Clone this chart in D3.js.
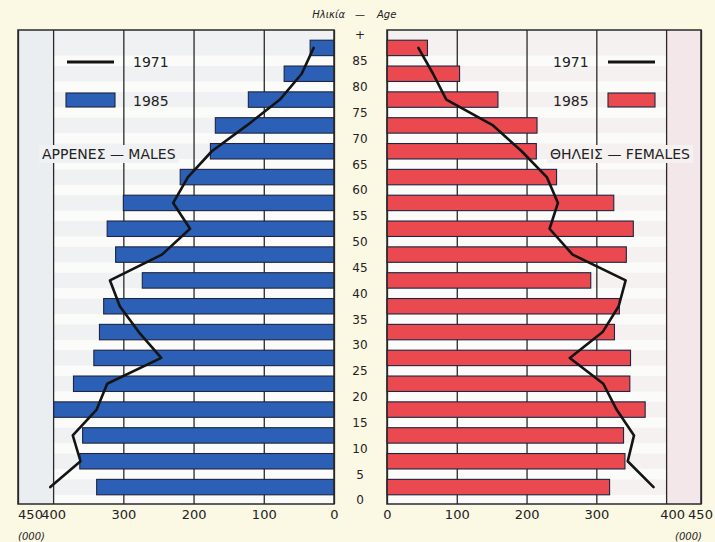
<!DOCTYPE html>
<html><head><meta charset="utf-8">
<script src="https://cdn.jsdelivr.net/npm/d3@7"></script>
<style>
html,body{margin:0;padding:0;background:#fbf8e4;}
svg{display:block;}
text{font-family:"DejaVu Sans",sans-serif;fill:#222;}
</style></head>
<body>
<svg id="c" width="715" height="542"></svg>
<script>
// ---- data ----
const ageGroups = [0,5,10,15,20,25,30,35,40,45,50,55,60,65,70,75,80,85];
const ageTickValues = [0,5,10,15,20,25,30,35,40,45,50,55,60,65,70,75,80,85,90];
const ageTickLabels = ["0","5","10","15","20","25","30","35","40","45","50","55","60","65","70","75","80","85","+"];
const male1985   = [338,362,358,399,371,342,334,328,273,311,323,300,219,176,169,122,71,34];
const male1971   = [404,361,372,338,323,246,278,305,319,245,205,229,208,174,124,77,46,29];
const female1985 = [319,341,339,370,348,349,326,333,292,343,353,325,243,214,215,159,104,58];
const female1971 = [382,345,354,329,310,262,309,332,342,266,233,245,229,193,152,85,66,45];
const xTicks = [0,100,200,300,400,450];
const xTickLabels = ["0","100","200","300","400","450"];
const legendYears = ["1971","1985"];
const maleTitle = "ΑΡΡΕΝΕΣ — MALES";
const femaleTitle = "ΘΗΛΕΙΣ — FEMALES";
const ageTitle = ["Ηλικία","—","Age"];
const unitLabel = "(000)";

// ---- layout ----
const svg = d3.select("#c");
const plotTop = 30, plotBottom = 504;
const L = {x0:18, x1:334}, R = {x0:387, x1:701};
const xL = d3.scaleLinear().domain([0,450]).range([L.x1, L.x0]);
const xR = d3.scaleLinear().domain([0,450]).range([R.x0, R.x1]);
const yAge = d3.scaleLinear().domain([0,90]).range([500,35]);
const pad = 5.2;
const blue = "#2c60b6", red = "#e9494f", edge = "#1d2540";

function panel(xs, fill, outer){
  const g = svg.append("g");
  g.append("rect").attr("x",Math.min(xs(0),xs(450))).attr("y",plotTop)
    .attr("width",Math.abs(xs(450)-xs(0))).attr("height",plotBottom-plotTop).attr("fill",fill);
  g.append("rect").attr("x",Math.min(xs(400),xs(450))).attr("y",plotTop)
    .attr("width",Math.abs(xs(450)-xs(400))).attr("height",plotBottom-plotTop).attr("fill",outer);
  g.selectAll("rect.gap").data(ageTickValues.slice(0,-1)).join("rect")
    .attr("class","gap")
    .attr("x",Math.min(xs(0),xs(400))).attr("width",Math.abs(xs(400)-xs(0)))
    .attr("y",d=>yAge(d)-pad).attr("height",pad*2).attr("fill","#fbfbfa");
  const ax = d3.axisBottom(xs).tickValues(xTicks).tickFormat((d,i)=>xTickLabels[i])
    .tickSizeInner(-(plotBottom-plotTop)).tickSizeOuter(0).tickPadding(6);
  const ag = svg.append("g").attr("transform",`translate(0,${plotBottom})`).call(ax);
  ag.select(".domain").remove();
  ag.selectAll(".tick line").attr("stroke","#2a2a2a").attr("stroke-width",1.3);
  ag.selectAll(".tick text").attr("font-size",13).attr("fill","#222")
    .attr("font-family","DejaVu Sans, sans-serif");
  return ag;
}

const agL = panel(xL, "#f0f1f2", "#eaeef1");
agL.selectAll(".tick text").attr("dx",d=>d===450?12:0);
const agR = panel(xR, "#f6f1f1", "#f4e7e9");
agR.selectAll(".tick text").attr("dx",d=>d===400?6:(d===450?-1:0));

function knockText(x, y, txt, fill){
  const t = svg.append("text").attr("x",x).attr("y",y).attr("font-size",14).text(txt);
  const b = t.node().getBBox();
  svg.insert("rect", function(){return t.node();})
    .attr("x",b.x-3).attr("y",b.y-1).attr("width",b.width+6).attr("height",b.height+2).attr("fill",fill);
  return t;
}

function bars(xs, data, color){
  svg.append("g").selectAll("rect").data(ageGroups).join("rect")
    .attr("x",(d,i)=>Math.min(xs(0),xs(data[i])))
    .attr("width",(d,i)=>Math.abs(xs(data[i])-xs(0)))
    .attr("y",d=>yAge(d+5)+pad)
    .attr("height",d=>yAge(d)-yAge(d+5)-2*pad)
    .attr("fill",color).attr("stroke",edge).attr("stroke-width",1.1);
}
bars(xL, male1985, blue);
bars(xR, female1985, red);

function line71(xs, data){
  const ln = d3.line().x((d,i)=>xs(data[i])).y(d=>yAge(d+2.5)).curve(d3.curveLinear);
  svg.append("path").datum(ageGroups).attr("d",ln).attr("fill","none")
    .attr("stroke","#141414").attr("stroke-width",2.6).attr("stroke-linejoin","round").attr("stroke-linecap","round");
}
line71(xL, male1971);
line71(xR, female1971);

[L,R].forEach(p=>{
  svg.append("rect").attr("x",p.x0).attr("y",plotTop).attr("width",p.x1-p.x0).attr("height",plotBottom-plotTop)
    .attr("fill","none").attr("stroke","#2a2a2a").attr("stroke-width",1.5);
});

svg.append("line").attr("x1",67).attr("x2",114).attr("y1",62).attr("y2",62).attr("stroke","#141414").attr("stroke-width",3);
svg.append("rect").attr("x",66).attr("y",93).attr("width",49).attr("height",14).attr("fill",blue).attr("stroke",edge).attr("stroke-width",1.1);
svg.append("text").attr("x",133).attr("y",67).attr("font-size",14).text(legendYears[0]);
svg.append("text").attr("x",133).attr("y",106).attr("font-size",14).text(legendYears[1]);
knockText(42, 159, maleTitle, "#f0f1f2");

svg.append("line").attr("x1",608).attr("x2",655).attr("y1",62).attr("y2",62).attr("stroke","#141414").attr("stroke-width",3);
svg.append("rect").attr("x",608).attr("y",93).attr("width",47).attr("height",14).attr("fill",red).attr("stroke",edge).attr("stroke-width",1.1);
svg.append("text").attr("x",553).attr("y",67).attr("font-size",14).text(legendYears[0]);
svg.append("text").attr("x",553).attr("y",106).attr("font-size",14).text(legendYears[1]);
knockText(550, 159, femaleTitle, "#f6f1f1");

const ay = d3.axisRight(yAge).tickValues(ageTickValues).tickFormat((d,i)=>ageTickLabels[i]).tickSize(0);
const ayg = svg.append("g").attr("transform","translate(360,0)").call(ay);
ayg.select(".domain").remove();
ayg.selectAll(".tick text").attr("x",0).attr("text-anchor","middle").attr("font-size",12)
  .attr("fill","#222").attr("font-family","DejaVu Sans, sans-serif");

svg.append("text").attr("x",345).attr("y",18).attr("text-anchor","end").attr("font-size",10).attr("font-style","italic").text(ageTitle[0]);
svg.append("text").attr("x",360).attr("y",18).attr("text-anchor","middle").attr("font-size",10).text(ageTitle[1]);
svg.append("text").attr("x",377).attr("y",18).attr("font-size",10).attr("font-style","italic").text(ageTitle[2]);

svg.append("text").attr("x",18).attr("y",540).attr("font-size",10).attr("font-style","italic").text(unitLabel);
svg.append("text").attr("x",702).attr("y",540).attr("text-anchor","end").attr("font-size",10).attr("font-style","italic").text(unitLabel);
</script>
</body></html>
